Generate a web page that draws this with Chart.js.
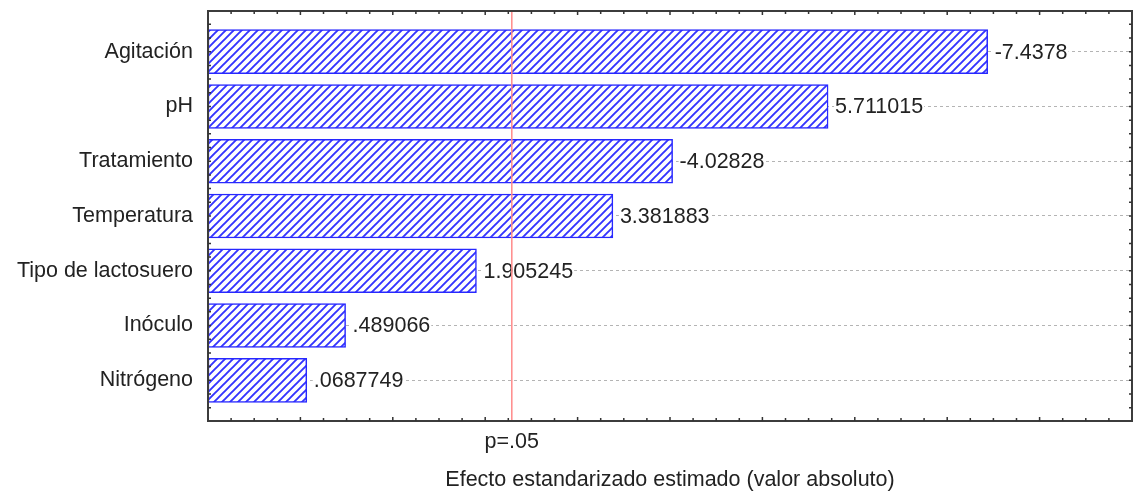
<!DOCTYPE html>
<html>
<head>
<meta charset="utf-8">
<script src="https://cdn.jsdelivr.net/npm/chart.js@4.4.1/dist/chart.umd.min.js"></script>
<style>
  html, body { margin: 0; padding: 0; background: #fff; }
</style>
</head>
<body>
<canvas id="myChart" width="1136" height="493"></canvas>
<script>
'use strict'

// factores y efectos estandarizados
const categories = ['Agitación', 'pH', 'Tratamiento', 'Temperatura', 'Tipo de lactosuero', 'Inóculo', 'Nitrógeno'];
const effects = [-7.4378, 5.711015, -4.02828, 3.381883, 1.905245, 0.489066, 0.0687749];
const effectLabels = ['-7.4378', '5.711015', '-4.02828', '3.381883', '1.905245', '.489066', '.0687749'];

// línea de significancia
const pLimit = 2.288;
const pLabel = 'p=.05';
const axisTitle = 'Efecto estandarizado estimado (valor absoluto)';

const FONT = '"Liberation Sans", Arial, sans-serif';
const FSIZE = 21.5;
const TEXT = '#222';

// rayado azul de las barras
function makeHatch() {
  const s = 8;
  const c = document.createElement('canvas');
  c.width = s; c.height = s;
  const g = c.getContext('2d');
  g.fillStyle = '#fff';
  g.fillRect(0, 0, s, s);
  g.strokeStyle = '#3434ff';
  g.lineWidth = 1.9;
  g.beginPath();
  g.moveTo(-2, s + 2); g.lineTo(s + 2, -2);
  g.moveTo(-2, 2); g.lineTo(2, -2);
  g.moveTo(s - 2, s + 2); g.lineTo(s + 2, s - 2);
  g.stroke();
  return g.createPattern(c, 'repeat');
}

const ctx = document.getElementById('myChart');

const framePlugin = {
  id: 'frame',
  afterDatasetsDraw(chart) {
    const {ctx, chartArea: a, scales: {x, y}} = chart;
    ctx.save();

    // etiquetas de valores
    const meta = chart.getDatasetMeta(0);
    ctx.font = FSIZE + 'px ' + FONT;
    ctx.textBaseline = 'middle';
    ctx.textAlign = 'left';
    meta.data.forEach((bar, i) => {
      const t = effectLabels[i];
      const w = ctx.measureText(t).width;
      const tx = bar.x + 7;
      ctx.fillStyle = '#fff';
      ctx.fillRect(tx - 1, bar.y - 9, w + 2, 18);
      ctx.fillStyle = TEXT;
      ctx.fillText(t, tx, bar.y + 1);
    });

    // línea p=.05
    const px = x.getPixelForValue(pLimit);
    ctx.strokeStyle = '#ff8a8a';
    ctx.lineWidth = 1.5;
    ctx.beginPath();
    ctx.moveTo(px, a.top);
    ctx.lineTo(px, a.bottom);
    ctx.stroke();

    // marco
    ctx.strokeStyle = '#3c3c3c';
    ctx.lineWidth = 2;
    ctx.strokeRect(a.left, a.top, a.right - a.left, a.bottom - a.top);

    // marcas interiores
    ctx.lineWidth = 1.5;
    ctx.strokeStyle = '#333';
    ctx.beginPath();
    for (let v = x.min + 0.25; v < x.max - 0.01; v += 0.25) {
      const p = x.getPixelForValue(v);
      const l = Math.abs(v - Math.round(v)) < 0.01 ? 4 : 3;
      ctx.moveTo(p, a.top); ctx.lineTo(p, a.top + l);
      ctx.moveTo(p, a.bottom); ctx.lineTo(p, a.bottom - l);
    }
    for (let v = Math.ceil(y.min * 4) / 4; v <= y.max; v += 0.25) {
      const p = y.getPixelForValue(v);
      if (p <= a.top + 2 || p >= a.bottom - 2) continue;
      ctx.moveTo(a.left, p); ctx.lineTo(a.left + 3, p);
      ctx.moveTo(a.right, p); ctx.lineTo(a.right - 3, p);
    }
    ctx.stroke();
    ctx.restore();
  }
};

window.myChart = new Chart(ctx, {
  type: 'bar',
  data: {
    datasets: [{
      data: categories.map((c, i) => ({x: Math.abs(effects[i]), y: i})),
      base: -1,
      backgroundColor: makeHatch(),
      borderColor: '#2828ff',
      borderWidth: 1.5,
      borderSkipped: false,
      barThickness: 44
    }]
  },
  options: {
    indexAxis: 'y',
    responsive: false,
    animation: false,
    layout: {padding: {top: 11, right: 4, left: 0, bottom: 0}},
    plugins: {legend: {display: false}, tooltip: {enabled: false}},
    scales: {
      x: {
        type: 'linear',
        min: -1,
        max: 9,
        afterBuildTicks: (s) => { s.ticks = [{value: pLimit}]; },
        afterFit: (s) => { s.height = 72; s.paddingLeft = 0; s.paddingRight = 0; },
        grid: {display: false, drawTicks: false},
        border: {display: false},
        ticks: {
          callback: () => pLabel,
          padding: 8,
          maxRotation: 0,
          font: {family: FONT, size: FSIZE},
          color: TEXT
        },
        title: {
          display: true,
          text: axisTitle,
          font: {family: FONT, size: FSIZE},
          color: TEXT,
          padding: {top: 0, bottom: 0}
        }
      },
      y: {
        type: 'linear',
        min: -0.743,
        max: 6.743,
        reverse: true,
        offset: false,
        afterBuildTicks: (s) => { s.ticks = categories.map((c, i) => ({value: i})); },
        afterFit: (s) => { s.width = 208; s.paddingTop = 0; s.paddingBottom = 0; },
        grid: {color: '#b4b4b4', lineWidth: 1, drawTicks: false, offset: false},
        border: {display: false, dash: [3, 3]},
        ticks: {
          callback: (v) => categories[v],
          padding: 15,
          autoSkip: false,
          font: {family: FONT, size: FSIZE},
          color: TEXT
        }
      }
    }
  },
  plugins: [framePlugin]
});
</script>
</body>
</html>
